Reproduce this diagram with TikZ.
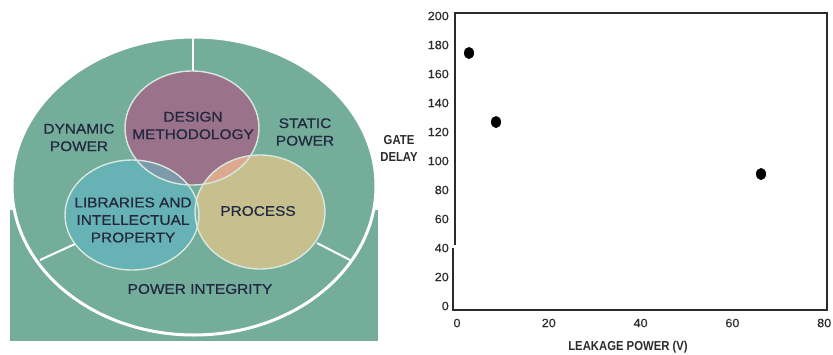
\documentclass[tikz,border=0pt]{standalone}
\usepackage{fontspec}
\setmainfont{Liberation Sans}
\newfontfamily\vennfont[FakeStretch=1.1,FakeBold=0.6]{Liberation Sans}
\newfontfamily\tickfont[FakeStretch=1.05,FakeBold=0.3]{Liberation Sans}
\newfontfamily\axisfont[FakeStretch=0.87]{Liberation Sans Bold}
\definecolor{ringgreen}{HTML}{74AE9A}
\definecolor{designc}{HTML}{9A728A}
\definecolor{libc}{HTML}{67B2B4}
\definecolor{procc}{HTML}{C8BF8E}
\definecolor{dlc}{HTML}{7C9AAA}
\definecolor{dpc}{HTML}{DCA88E}
\definecolor{lpc}{HTML}{7DB5A8}
\definecolor{rimc}{HTML}{D8E8E0}
\definecolor{vtext}{HTML}{22283F}
\definecolor{axisc}{HTML}{2B2B2B}
\tikzset{
  vlabel/.style={text=vtext, font=\vennfont\fontsize{14}{17.5}\selectfont, align=center, inner sep=0pt},
  ytick/.style={text=axisc, font=\tickfont\fontsize{12}{14}\selectfont, anchor=east, inner sep=0pt},
  xtick/.style={text=axisc, font=\tickfont\fontsize{12}{14}\selectfont, inner sep=0pt},
  atitle/.style={text=axisc, font=\axisfont\fontsize{13}{17}\selectfont, align=center, inner sep=0pt},
  divider/.style={white, line width=2pt},
  rim/.style={rimc, line width=1.4pt},
  datapt/.style={fill=black},
}
\begin{document}
\begin{tikzpicture}[x=1pt,y=-1pt]
\useasboundingbox (0,0) rectangle (833,354);
% ---------- left panel ----------
\fill[ringgreen] (10,210) rectangle (378,341);
\draw[white, line width=3pt, fill=ringgreen] (194,186) ellipse [x radius=182pt, y radius=149pt];
% dividers
\coordinate (topA) at (193,38);
\coordinate (topB) at (193,72);
\coordinate (llA) at (40,260);
\coordinate (llB) at (75,244);
\coordinate (lrA) at (350,260);
\coordinate (lrB) at (317,243);
\draw[divider] (topA) -- (topB);
\draw[divider] (llA) -- (llB);
\draw[divider] (lrA) -- (lrB);
% circles
\def\designpath{(192,128) ellipse [x radius=67pt, y radius=57pt]}
\def\libpath{(132,215) ellipse [x radius=67pt, y radius=55pt]}
\def\procpath{(260,212) ellipse [x radius=65pt, y radius=57pt]}
\fill[designc] \designpath;
\fill[procc] \procpath;
\fill[libc] \libpath;
\begin{scope}
  \clip \designpath;
  \fill[dlc] \libpath;
\end{scope}
\begin{scope}
  \clip \designpath;
  \fill[dpc] \procpath;
\end{scope}
\begin{scope}
  \clip \libpath;
  \fill[lpc] \procpath;
\end{scope}
\draw[rim] \designpath;
\draw[rim] \libpath;
\draw[rim] \procpath;
% labels
\node[vlabel] (dyn) at (79,137.5) {DYNAMIC\\POWER};
\node[vlabel] (des) at (193,125.5) {DESIGN\\METHODOLOGY};
\node[vlabel] (sta) at (305,132) {STATIC\\POWER};
\node[vlabel] (lib) at (133,220) {LIBRARIES AND\\INTELLECTUAL\\PROPERTY};
\node[vlabel] (pro) at (258,211) {PROCESS};
\node[vlabel] (pin) at (200,289) {POWER INTEGRITY};
% ---------- right panel: chart ----------
\coordinate (bl) at (453,310);
\coordinate (br) at (827,310);
\coordinate (tr) at (827,13);
\coordinate (tl) at (455,13);
\coordinate (gapTop) at (455,245);
\coordinate (gapBot) at (453,248);
\draw[axisc, line width=1.3pt] (gapBot) -- (bl) -- (br) -- (tr) -- (tl) -- (gapTop);
\foreach \v in {0,20,...,200}{
  \node[ytick] (y\v) at (449,{306-\v*1.45}) {\v};
}
\foreach \v in {0,20,...,80}{
  \node[xtick] (x\v) at ({457+\v*4.59},323) {\v};
}
\node[atitle] (xt) at (628,347) {LEAKAGE POWER (V)};
\node[atitle] (yt) at (399,148.5) {GATE\\DELAY};
\fill[datapt] (469,53) ellipse [x radius=5pt, y radius=6pt];
\fill[datapt] (496,122) ellipse [x radius=5pt, y radius=6pt];
\fill[datapt] (761,174) ellipse [x radius=5pt, y radius=6pt];
\end{tikzpicture}
\end{document}
